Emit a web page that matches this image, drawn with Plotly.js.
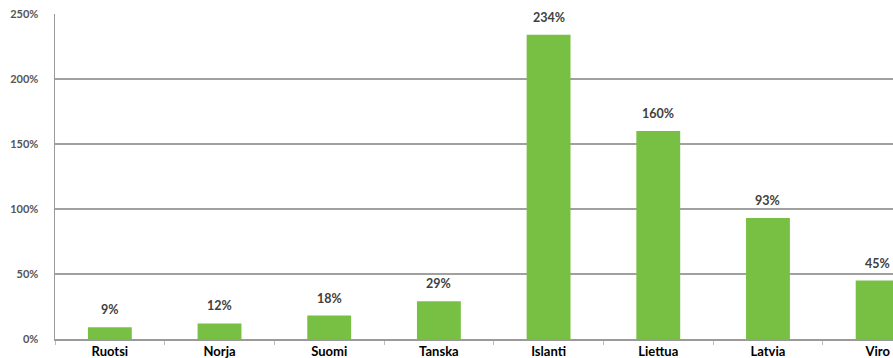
<!DOCTYPE html>
<html>
<head>
<meta charset="utf-8">
<script src="https://cdn.plot.ly/plotly-3.0.1.min.js"></script>
<style>html,body{margin:0;padding:0;background:#fff;}#chart{width:893px;height:358px;}</style>
</head>
<body>
<div id="chart"></div>
<script>
const categories = ["Ruotsi", "Norja", "Suomi", "Tanska", "Islanti", "Liettua", "Latvia", "Viro"];
const values = [9, 12, 18, 29, 234, 160, 93, 45];
const valueLabels = ["9%", "12%", "18%", "29%", "234%", "160%", "93%", "45%"];
const yTickVals = [0, 50, 100, 150, 200, 250];
const yTickText = ["0%", "50%", "100%", "150%", "200%", "250%"];

const trace = {
  type: "bar",
  x: categories,
  y: values,
  marker: {color: "#78c043", line: {width: 0}},
  width: 0.4,
  hoverinfo: "skip"
};

const annotations = categories.map((c, i) => ({
  x: c, y: values[i], text: "<b>" + valueLabels[i] + "</b>",
  showarrow: false, yanchor: "bottom", yshift: 8,
  font: {family: "Lato, 'Open Sans', sans-serif", size: 12.5, color: "#404040"}
}));

const layout = {
  width: 893, height: 358,
  margin: {l: 55, r: 0, t: 14, b: 19, pad: 0},
  paper_bgcolor: "#ffffff",
  plot_bgcolor: "#ffffff",
  showlegend: false,
  bargap: 0.6,
  xaxis: {
    type: "category",
    range: [-0.5, 7.14],
    showgrid: false,
    showline: true, linecolor: "#9a9a9a", linewidth: 1.5,
    ticks: "outside", tickson: "boundaries", ticklen: 4, tickcolor: "#bdbdbd", tickwidth: 1,
    tickfont: {family: "Lato, 'Open Sans', sans-serif", size: 13, color: "#000000", weight: "bold"},
    zeroline: false,
    fixedrange: true
  },
  yaxis: {
    range: [0, 250],
    tickvals: yTickVals, ticktext: yTickText,
    showgrid: true, gridcolor: "#a0a0a0", gridwidth: 1.5,
    showline: true, linecolor: "#9a9a9a", linewidth: 1.5,
    ticks: "", ticklabelstandoff: 13,
    tickfont: {family: "Lato, 'Open Sans', sans-serif", size: 11, color: "#555555", weight: "bold"},
    zeroline: false,
    fixedrange: true
  },
  annotations: annotations
};

Plotly.newPlot("chart", [trace], layout, {displayModeBar: false, staticPlot: true});
</script>
</body>
</html>
